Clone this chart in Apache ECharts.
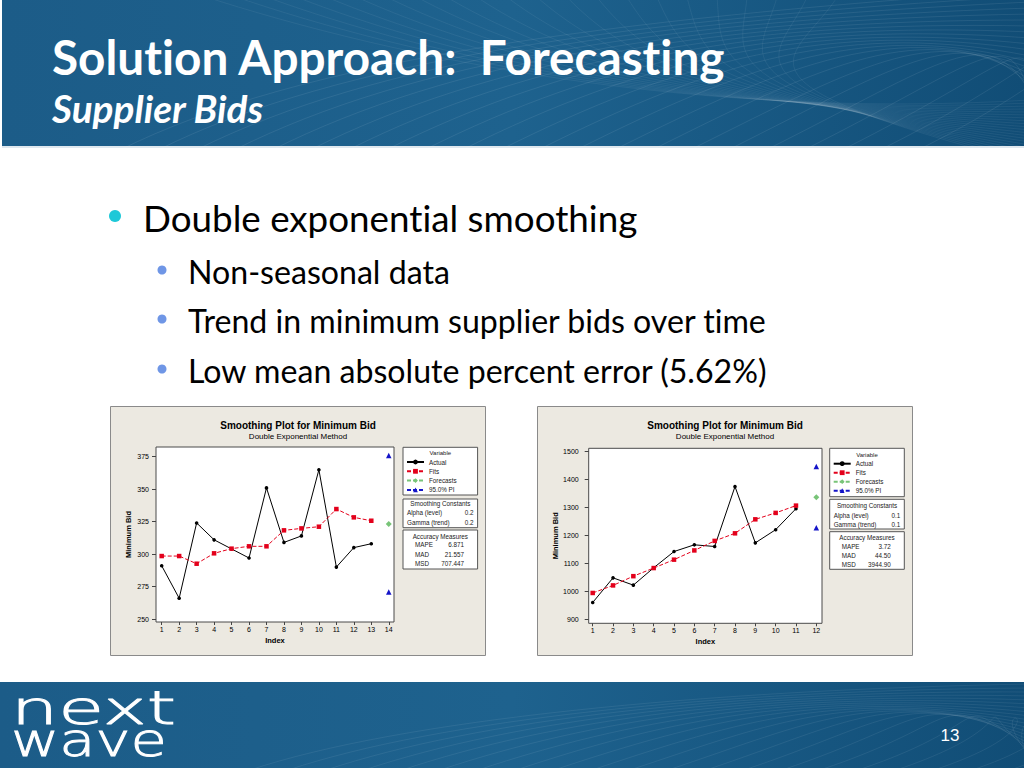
<!DOCTYPE html>
<html><head><meta charset="utf-8">
<script src="https://cdn.jsdelivr.net/npm/echarts@6/dist/echarts.min.js"></script>
<style>html,body{margin:0;padding:0;background:#fff;overflow:hidden}#c{width:1024px;height:768px}#c text{font-variant-ligatures:none !important;font-feature-settings:"liga" 0, "clig" 0 !important}</style>
</head><body><div id="c"></div>
<script>
// ---------- DATA ----------
const seriesNames = ['Actual', 'Fits', 'Forecasts', '95.0% PI'];

// Chart 1
const index1 = [1, 2, 3, 4, 5, 6, 7, 8, 9, 10, 11, 12, 13];
const actual1 = [291, 266, 324, 311, 304, 297, 351, 309, 314, 365, 290, 305, 308];
const fits1 = [298.5, 298.5, 292.6, 300.6, 304.2, 306, 306, 318.3, 319.8, 321.1, 334.7, 328.3, 325.7];
const forecastIndex1 = 14;
const forecast1 = 323.1;
const piUpper1 = 376;
const piLower1 = 270.8;
const xTicks1 = [1, 2, 3, 4, 5, 6, 7, 8, 9, 10, 11, 12, 13, 14];
const yTicks1 = [250, 275, 300, 325, 350, 375];
const smoothing1 = [['Alpha (level)', '0.2'], ['Gamma (trend)', '0.2']];
const accuracy1 = [['MAPE', '6.871'], ['MAD', '21.557'], ['MSD', '707.447']];

// Chart 2
const index2 = [1, 2, 3, 4, 5, 6, 7, 8, 9, 10, 11];
const actual2 = [960, 1048, 1022, 1084, 1142, 1166, 1160, 1374, 1173, 1220, 1295];
const fits2 = [994, 1021, 1054, 1083, 1113, 1146, 1180, 1207, 1257, 1280, 1306];
const forecastIndex2 = 12;
const forecast2 = 1336;
const piUpper2 = 1446;
const piLower2 = 1227;
const xTicks2 = [1, 2, 3, 4, 5, 6, 7, 8, 9, 10, 11, 12];
const yTicks2 = [900, 1000, 1100, 1200, 1300, 1400, 1500];
const smoothing2 = [['Alpha (level)', '0.1'], ['Gamma (trend)', '0.1']];
const accuracy2 = [['MAPE', '3.72'], ['MAD', '44.50'], ['MSD', '3944.90']];

// Slide text
const slideTitle = 'Solution Approach:  Forecasting';
const slideSubtitle = 'Supplier Bids';
const bulletMain = 'Double exponential smoothing';
const bulletSubs = ['Non-seasonal data', 'Trend in minimum supplier bids over time', 'Low mean absolute percent error (5.62%)'];
const chartTitle = 'Smoothing Plot for Minimum Bid';
const chartSubtitle = 'Double Exponential Method';
const logoWords = ['next', 'wave'];
const pageNumber = '13';

// ---------- LAYOUT / STYLE ----------
const SLIDE_FONT = 'Lato, "Open Sans", sans-serif';
const CH_FONT = '"Liberation Sans", Arial, sans-serif';
const C_ACT = '#000000', C_FIT = '#e3001b', C_FC = '#78c478', C_PI = '#1414c8';

function fitSize(text, style, weight, family, targetW) {
  const ctx = document.createElement('canvas').getContext('2d');
  ctx.font = style + ' ' + weight + ' 100px ' + family;
  return 100 * targetW / ctx.measureText(text).width;
}
function textW(text, style, weight, size, family) {
  const ctx = document.createElement('canvas').getContext('2d');
  ctx.font = style + ' ' + weight + ' ' + size + 'px ' + family;
  return ctx.measureText(text).width;
}

const layouts = [
  {
    box: [110.5, 406.5, 375, 249],
    grid: {left: 156, top: 447, width: 238, height: 175},
    x: {min: 0.674, max: 14.3, ticks: xTicks1},
    y: {min: 247.7, max: 382.5, ticks: yTicks1, margin: 7, nameGap: 24},
    legendBox: [403, 447.3, 74.6, 47.7], variableY: 453.3, legendTop: 459, legendGap: 3.3,
    smBox: [403, 499, 74.6, 28.7], smY: [503.7, 512.7, 522.3],
    acBox: [403, 530, 74.6, 39], acY: [536.3, 544.7, 554, 563.7],
    titleY: 425, subY: 436, cx: 298,
    smoothing: smoothing1, accuracy: accuracy1
  },
  {
    box: [537.5, 406.5, 375, 249],
    grid: {left: 588.7, top: 448.3, width: 233.3, height: 175},
    x: {min: 0.803, max: 12.28, ticks: xTicks2},
    y: {min: 885.7, max: 1510.7, ticks: yTicks2, margin: 10, nameGap: 29},
    legendBox: [829.7, 448.3, 74.6, 48.4], variableY: 454.7, legendTop: 460.7, legendGap: 3,
    smBox: [829.7, 499.3, 74.6, 29.7], smY: [505, 515, 524],
    acBox: [829.7, 531.7, 74.6, 37.6], acY: [537.3, 546, 555.3, 564.7],
    titleY: 425, subY: 436, cx: 725,
    smoothing: smoothing2, accuracy: accuracy2
  }
];

const graphics = [];
// header & footer bands
const bandGrad = new echarts.graphic.LinearGradient(0, 0, 1, 0, [
  {offset: 0, color: '#1c5c88'}, {offset: 0.5, color: '#1e628e'}, {offset: 1, color: '#114d76'}
]);
graphics.push({type: 'rect', z: -20, shape: {x: 2, y: 0, width: 1022, height: 147}, style: {fill: bandGrad}});
graphics.push({type: 'rect', z: -20, shape: {x: 0, y: 682, width: 1024, height: 86}, style: {fill: bandGrad}});
graphics.push({type: 'rect', z: -19, shape: {x: 2, y: 146, width: 1022, height: 2}, style: {fill: '#dfe8ef'}});
// texture curves (decoration)
for (let i = 0; i < 22; i++) {
  const s = i * 38;
  graphics.push({type: 'bezierCurve', z: -18, shape: {x1: 120 + s, y1: 150, cpx1: 300 + s, cpy1: 60, cpx2: 600 + s * 0.6, cpy2: 20, x2: 1030, y2: -10 + i * 6},
    style: {stroke: 'rgba(255,255,255,0.08)', lineWidth: 1, fill: null}});
  graphics.push({type: 'bezierCurve', z: -18, shape: {x1: 200 + s * 0.8, y1: -5, cpx1: 400 + s * 0.5, cpy1: 60, cpx2: 700, cpy2: 120 - i * 2, x2: 1030, y2: 100 + i * 3},
    style: {stroke: 'rgba(255,255,255,0.06)', lineWidth: 1, fill: null}});
  graphics.push({type: 'bezierCurve', z: -18, shape: {x1: 250 + s, y1: 770, cpx1: 400 + s, cpy1: 720, cpx2: 700 + s * 0.4, cpy2: 690, x2: 1030, y2: 684 + i * 4},
    style: {stroke: 'rgba(255,255,255,0.07)', lineWidth: 1, fill: null}});
}
// slide title/subtitle
const tSize = fitSize(slideTitle, 'normal', 'bold', SLIDE_FONT, 676);
graphics.push({type: 'text', z: 20, x: 52, y: 56, style: {text: slideTitle, fill: '#fff', font: 'bold ' + tSize + 'px ' + SLIDE_FONT, verticalAlign: 'middle'}});
const sSize = fitSize(slideSubtitle, 'italic', 'bold', SLIDE_FONT, 212);
graphics.push({type: 'text', z: 20, x: 52, y: 108, style: {text: slideSubtitle, fill: '#fff', font: 'italic bold ' + sSize + 'px ' + SLIDE_FONT, verticalAlign: 'middle'}});
// bullets
const bSize = fitSize(bulletMain, 'normal', 'normal', SLIDE_FONT, 495);
graphics.push({type: 'circle', z: 20, shape: {cx: 115, cy: 216, r: 6}, style: {fill: '#1ec8d8'}});
graphics.push({type: 'text', z: 20, x: 143, y: 218, style: {text: bulletMain, fill: '#000', font: bSize + 'px ' + SLIDE_FONT, verticalAlign: 'middle'}});
const subSize = fitSize(bulletSubs[1], 'normal', 'normal', SLIDE_FONT, 580);
const subYs = [271, 320, 370];
bulletSubs.forEach((t, i) => {
  graphics.push({type: 'circle', z: 20, shape: {cx: 162, cy: subYs[i] - 1, r: 4.5}, style: {fill: '#6f96e6'}});
  graphics.push({type: 'text', z: 20, x: 188, y: subYs[i], style: {text: t, fill: '#000', font: subSize + 'px ' + SLIDE_FONT, verticalAlign: 'middle'}});
});
// footer logo and page number
const LOGO_FONT = '"DejaVu Sans", sans-serif';
logoWords.forEach((w, i) => {
  const fs = 46;
  const mw = textW(w, 'normal', '200', fs, LOGO_FONT);
  const target = i === 0 ? 165 : 156;
  graphics.push({type: 'text', z: 20, x: 11, y: i === 0 ? 708 : 740, scaleX: target / mw, originX: 0,
    style: {text: w, fill: '#fff', stroke: '#fff', lineWidth: 0.9, font: '200 ' + fs + 'px ' + LOGO_FONT, verticalAlign: 'middle'}});
});
graphics.push({type: 'text', z: 20, x: 950, y: 735, style: {text: pageNumber, fill: '#fff', font: '17px "Liberation Sans Narrow", "Liberation Sans", sans-serif', align: 'center', verticalAlign: 'middle'}});

// chart boxes
layouts.forEach(L => {
  graphics.push({type: 'rect', z: -5, shape: {x: L.box[0], y: L.box[1], width: L.box[2], height: L.box[3]}, style: {fill: '#ece9e1', stroke: '#8a8a8a', lineWidth: 1}});
  graphics.push({type: 'text', z: 20, x: L.cx, y: L.titleY, style: {text: chartTitle, fill: '#000', font: 'bold 10px ' + CH_FONT, align: 'center', verticalAlign: 'middle'}});
  graphics.push({type: 'text', z: 20, x: L.cx, y: L.subY, style: {text: chartSubtitle, fill: '#000', font: '8px ' + CH_FONT, align: 'center', verticalAlign: 'middle'}});
  [L.legendBox, L.smBox, L.acBox].forEach(b => {
    graphics.push({type: 'rect', z: 1, shape: {x: b[0], y: b[1], width: b[2], height: b[3]}, style: {fill: '#fff', stroke: '#555', lineWidth: 1}});
  });
  const lb = L.legendBox, sb = L.smBox, ab = L.acBox;
  graphics.push({type: 'text', z: 20, x: lb[0] + lb[2] / 2, y: L.variableY, style: {text: 'Variable', fill: '#222', font: '6px ' + CH_FONT, align: 'center', verticalAlign: 'middle'}});
  graphics.push({type: 'text', z: 20, x: sb[0] + sb[2] / 2, y: L.smY[0], style: {text: 'Smoothing Constants', fill: '#222', font: '6.3px ' + CH_FONT, align: 'center', verticalAlign: 'middle'}});
  L.smoothing.forEach((r, i) => {
    graphics.push({type: 'text', z: 20, x: sb[0] + 4, y: L.smY[i + 1], style: {text: r[0], fill: '#222', font: '6.3px ' + CH_FONT, verticalAlign: 'middle'}});
    graphics.push({type: 'text', z: 20, x: sb[0] + sb[2] - 4, y: L.smY[i + 1], style: {text: r[1], fill: '#222', font: '6.3px ' + CH_FONT, align: 'right', verticalAlign: 'middle'}});
  });
  graphics.push({type: 'text', z: 20, x: ab[0] + ab[2] / 2, y: L.acY[0], style: {text: 'Accuracy Measures', fill: '#222', font: '6.3px ' + CH_FONT, align: 'center', verticalAlign: 'middle'}});
  L.accuracy.forEach((r, i) => {
    graphics.push({type: 'text', z: 20, x: ab[0] + 12, y: L.acY[i + 1], style: {text: r[0], fill: '#222', font: '6.3px ' + CH_FONT, verticalAlign: 'middle'}});
    graphics.push({type: 'text', z: 20, x: ab[0] + 61, y: L.acY[i + 1], style: {text: r[1], fill: '#222', font: '6.3px ' + CH_FONT, align: 'right', verticalAlign: 'middle'}});
  });
});

// ---------- AXES ----------
const grids = layouts.map(L => Object.assign({show: true, backgroundColor: '#fff', borderColor: '#4a4a4a', borderWidth: 1, containLabel: false}, L.grid));
const xAxes = layouts.map((L, k) => ({
  type: 'value', gridIndex: k, min: L.x.min, max: L.x.max,
  name: 'Index', nameLocation: 'middle', nameGap: 14,
  nameTextStyle: {fontFamily: CH_FONT, fontSize: 7.5, fontWeight: 'bold', color: '#000'},
  axisLine: {show: false}, splitLine: {show: false},
  axisTick: {show: true, length: 3, lineStyle: {color: '#444'}, customValues: L.x.ticks},
  axisLabel: {fontFamily: CH_FONT, fontSize: 7, color: '#000', margin: 4, customValues: L.x.ticks, formatter: v => String(v)}
}));
const yAxes = layouts.map((L, k) => ({
  type: 'value', gridIndex: k, min: L.y.min, max: L.y.max,
  name: 'Minimum Bid', nameLocation: 'middle', nameGap: L.y.nameGap,
  nameTextStyle: {fontFamily: CH_FONT, fontSize: 7.5, fontWeight: 'bold', color: '#000'},
  axisLine: {show: false}, splitLine: {show: false},
  axisTick: {show: true, length: 4, lineStyle: {color: '#444'}, customValues: L.y.ticks},
  axisLabel: {fontFamily: CH_FONT, fontSize: 7, color: '#000', margin: L.y.margin, customValues: L.y.ticks, formatter: v => String(v)}
}));

// ---------- SERIES ----------
function buildSeries(k, idx, act, fit, fIdx, fc, piU, piL) {
  const base = {type: 'line', xAxisIndex: k, yAxisIndex: k, animation: false, silent: true};
  return [
    Object.assign({}, base, {name: seriesNames[0], data: idx.map((x, i) => [x, act[i]]), symbol: 'circle', symbolSize: 3.6,
      itemStyle: {color: C_ACT}, lineStyle: {color: C_ACT, width: 1}, z: 3}),
    Object.assign({}, base, {name: seriesNames[1], data: idx.map((x, i) => [x, fit[i]]), symbol: 'rect', symbolSize: 4.5,
      itemStyle: {color: C_FIT}, lineStyle: {color: C_FIT, width: 1, type: [4, 2]}, z: 4}),
    Object.assign({}, base, {name: seriesNames[2], data: [[fIdx, fc]], symbol: 'diamond', symbolSize: 6,
      itemStyle: {color: C_FC}, lineStyle: {color: C_FC, width: 1, type: [4, 2]}}),
    Object.assign({}, base, {name: seriesNames[3], data: [[fIdx, piU]], symbol: 'triangle', symbolSize: 5.5,
      itemStyle: {color: C_PI}, lineStyle: {color: C_PI, width: 1, type: [4, 2]}}),
    Object.assign({}, base, {name: seriesNames[3], data: [[fIdx, piL]], symbol: 'triangle', symbolSize: 5.5,
      itemStyle: {color: C_PI}, lineStyle: {color: C_PI, width: 1, type: [4, 2]}})
  ];
}
const series = [].concat(
  buildSeries(0, index1, actual1, fits1, forecastIndex1, forecast1, piUpper1, piLower1),
  buildSeries(1, index2, actual2, fits2, forecastIndex2, forecast2, piUpper2, piLower2)
);

const legends = layouts.map(L => ({
  orient: 'vertical', left: L.legendBox[0] + 3, top: L.legendTop, padding: 0,
  itemWidth: 17, itemHeight: 6, itemGap: L.legendGap, selectedMode: false, z: 10,
  textStyle: {fontFamily: CH_FONT, fontSize: 6.3, color: '#222'},
  data: seriesNames
}));

const chart = echarts.init(document.getElementById('c'), null, {renderer: 'svg', width: 1024, height: 768});
chart.setOption({
  animation: false,
  backgroundColor: '#ffffff',
  grid: grids, xAxis: xAxes, yAxis: yAxes,
  legend: legends,
  series: series,
  graphic: {elements: graphics}
});
</script></body></html>
